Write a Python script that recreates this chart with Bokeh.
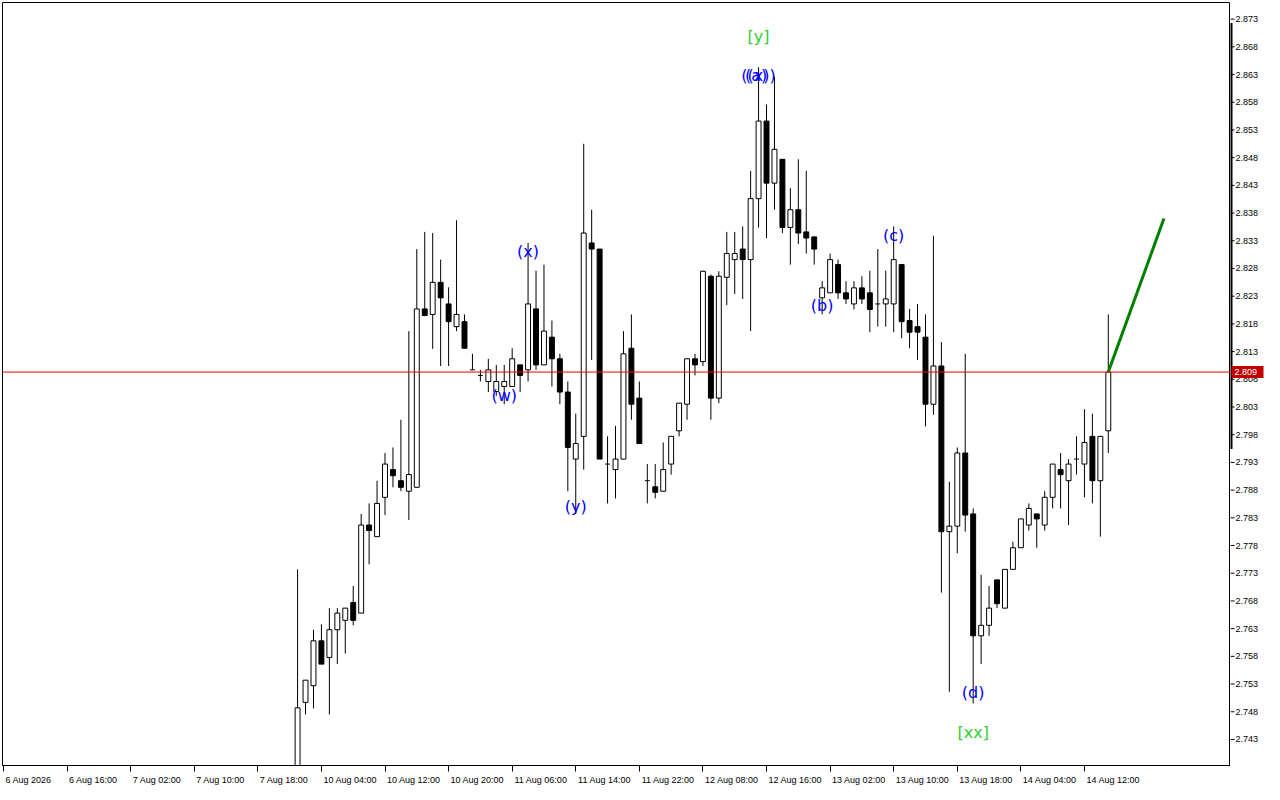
from bokeh.plotting import figure
from bokeh.models import ColumnDataSource, Range1d, LinearAxis, FixedTicker, Span
from bokeh.layouts import row
from bokeh.core.properties import value
from bokeh.embed import file_html
from bokeh.resources import INLINE

# hourly bars, x = bar number on the chart (gaps in trading hours are skipped)
bar = list(range(37, 140))

open_ = [2.7346, 2.7497, 2.7527, 2.7608, 2.7578, 2.7628, 2.7645, 2.7677, 2.7658, 2.7817,
         2.7796, 2.7867, 2.7917, 2.7897, 2.7878, 2.7885, 2.8207, 2.8197, 2.8255, 2.8216,
         2.8175, 2.8184, 2.8097, 2.8087, 2.8076, 2.8058, 2.8067, 2.8067, 2.8106, 2.8097,
         2.8207, 2.8106, 2.8156, 2.8117, 2.8057, 2.7936, 2.7977, 2.8326, 2.8315, 2.7927,
         2.7917, 2.7936, 2.8136, 2.8046, 2.7897, 2.7886, 2.7878, 2.7927, 2.7987, 2.8035,
         2.8117, 2.8112, 2.8266, 2.8046, 2.8264, 2.8296, 2.8315, 2.8296, 2.8406, 2.8546,
         2.8434, 2.8477, 2.8354, 2.8386, 2.8346, 2.8337, 2.8227, 2.8236, 2.8287, 2.8236,
         2.8216, 2.8245, 2.8236, 2.8216, 2.8216, 2.8216, 2.8287, 2.8186, 2.8175, 2.8156,
         2.8035, 2.8104, 2.7805, 2.7815, 2.7947, 2.7837, 2.7617, 2.7636, 2.7718, 2.7667,
         2.7737, 2.7776, 2.7817, 2.7837, 2.7817, 2.7867, 2.7917, 2.7897, 2.7936, 2.7927,
         2.7977, 2.7897, 2.7987]
high = [2.7737, 2.7537, 2.7628, 2.7638, 2.7667, 2.7667, 2.7667, 2.7707, 2.7837, 2.7856,
        2.7897, 2.7947, 2.7957, 2.8007, 2.8167, 2.8315, 2.8346, 2.8344, 2.8296, 2.8246,
        2.8367, 2.8197, 2.8126, 2.8097, 2.8117, 2.8106, 2.8106, 2.8136, 2.8106, 2.8326,
        2.8276, 2.8287, 2.8186, 2.8126, 2.8076, 2.8018, 2.8505, 2.8386, 2.8315, 2.7977,
        2.7996, 2.8167, 2.8197, 2.8076, 2.7927, 2.7927, 2.7966, 2.7977, 2.8037, 2.8117,
        2.8126, 2.8276, 2.8269, 2.8275, 2.8346, 2.8346, 2.8356, 2.8456, 2.8643, 2.8576,
        2.8626, 2.8477, 2.8425, 2.8477, 2.8456, 2.8337, 2.8257, 2.8307, 2.8296, 2.8257,
        2.8257, 2.8266, 2.8276, 2.8315, 2.8276, 2.8356, 2.8287, 2.8207, 2.8216, 2.8197,
        2.8339, 2.8147, 2.7895, 2.7957, 2.8126, 2.7847, 2.7727, 2.7707, 2.7718, 2.7737,
        2.7787, 2.7828, 2.7856, 2.7837, 2.7878, 2.7927, 2.7947, 2.7936, 2.7977, 2.8026,
        2.8018, 2.7977, 2.8197]
low = [2.7328, 2.7475, 2.7486, 2.7566, 2.7475, 2.7566, 2.7585, 2.7636, 2.7658, 2.7746,
       2.7796, 2.7835, 2.7885, 2.7878, 2.7826, 2.7885, 2.8195, 2.8135, 2.8104, 2.8104,
       2.8167, 2.8136, 2.8097, 2.8076, 2.8057, 2.8050, 2.8035, 2.8067, 2.8057, 2.8076,
       2.8097, 2.8106, 2.8067, 2.8035, 2.7878, 2.7837, 2.7917, 2.8115, 2.7936, 2.7856,
       2.7865, 2.7936, 2.8007, 2.7964, 2.7856, 2.7865, 2.7878, 2.7908, 2.7977, 2.8007,
       2.8087, 2.8104, 2.8007, 2.8037, 2.8214, 2.8234, 2.8225, 2.8167, 2.8354, 2.8335,
       2.8386, 2.8344, 2.8287, 2.8324, 2.8307, 2.8287, 2.8197, 2.8236, 2.8225, 2.8216,
       2.8206, 2.8216, 2.8165, 2.8175, 2.8175, 2.8165, 2.8154, 2.8136, 2.8115, 2.7995,
       2.8016, 2.7695, 2.7516, 2.7766, 2.7805, 2.7495, 2.7566, 2.7617, 2.7667, 2.7667,
       2.7737, 2.7776, 2.7807, 2.7776, 2.7807, 2.7847, 2.7847, 2.7817, 2.7908, 2.7867,
       2.7856, 2.7796, 2.7947]
close = [2.7487, 2.7537, 2.7608, 2.7566, 2.7628, 2.7658, 2.7667, 2.7645, 2.7817, 2.7807,
         2.7856, 2.7927, 2.7906, 2.7885, 2.7908, 2.8207, 2.8195, 2.8255, 2.8227, 2.8184,
         2.8197, 2.8136, 2.8097, 2.8087, 2.8097, 2.8076, 2.8076, 2.8117, 2.8087, 2.8216,
         2.8106, 2.8167, 2.8117, 2.8057, 2.7957, 2.7964, 2.8344, 2.8315, 2.7936, 2.7927,
         2.7936, 2.8126, 2.8035, 2.7964, 2.7897, 2.7876, 2.7917, 2.7977, 2.8037, 2.8117,
         2.8106, 2.8275, 2.8046, 2.8266, 2.8307, 2.8307, 2.8296, 2.8406, 2.8546, 2.8434,
         2.8495, 2.8354, 2.8386, 2.8344, 2.8335, 2.8315, 2.8245, 2.8296, 2.8236, 2.8225,
         2.8245, 2.8225, 2.8206, 2.8216, 2.8225, 2.8296, 2.8184, 2.8165, 2.8165, 2.8035,
         2.8104, 2.7805, 2.7815, 2.7947, 2.7835, 2.7617, 2.7636, 2.7667, 2.7675, 2.7737,
         2.7776, 2.7828, 2.7847, 2.7828, 2.7867, 2.7927, 2.7908, 2.7927, 2.7936, 2.7966,
         2.7897, 2.7977, 2.8093]

time_ticks = [0, 8, 16, 24, 32, 40, 48, 56, 64, 72, 80, 88, 96, 104, 112, 120, 128, 136]
time_labels = ["6 Aug 2026", "6 Aug 16:00", "7 Aug 02:00", "7 Aug 10:00", "7 Aug 18:00",
               "10 Aug 04:00", "10 Aug 12:00", "10 Aug 20:00", "11 Aug 06:00", "11 Aug 14:00",
               "11 Aug 22:00", "12 Aug 08:00", "12 Aug 16:00", "13 Aug 02:00", "13 Aug 10:00",
               "13 Aug 18:00", "14 Aug 04:00", "14 Aug 12:00"]
price_ticks = [2.743, 2.748, 2.753, 2.758, 2.763, 2.768, 2.773, 2.778, 2.783, 2.788,
               2.793, 2.798, 2.803, 2.808, 2.813, 2.818, 2.823, 2.828, 2.833, 2.838,
               2.843, 2.848, 2.853, 2.858, 2.863, 2.868, 2.873]

current_price = 2.8093
current_label = "2.809"
scale_bar = [2.7954, 2.8723]   # black bar on the price scale

# wave labels
wave_x = [63, 66, 72, 95, 94.7, 103, 112, 122]
wave_y = [2.8051, 2.8310, 2.7851, 2.8628, 2.8628, 2.8213, 2.8339, 2.7514]
wave_text = ["(w)", "(x)", "(y)", "((x))", "(a)", "(b)", "(c)", "(d)"]
major_x = [95, 122]
major_y = [2.8698, 2.7443]
major_text = ["[y]", "[xx]"]

# forecast line
proj_x = [139, 146]
proj_y = [2.8093, 2.8370]

FRAME_W, FRAME_H, SCALE_W = 1228, 763, 34
X0, X1 = -0.125, 154.375
PX_PER_BAR = FRAME_W / (X1 - X0)

up = dict(x=[], top=[], bottom=[])
down = dict(x=[], top=[], bottom=[])
doji = dict(x=[], y=[])
for b, o, c in zip(bar, open_, close):
    if c > o:
        up["x"].append(b); up["top"].append(c); up["bottom"].append(o)
    elif c < o:
        down["x"].append(b); down["top"].append(o); down["bottom"].append(c)
    else:
        doji["x"].append(b); doji["y"].append(c)

yr = Range1d(2.7383, 2.8760)

p = figure(frame_width=FRAME_W, frame_height=FRAME_H, output_backend="svg",
           toolbar_location=None, x_range=Range1d(X0, X1), y_range=yr,
           x_axis_location=None, y_axis_location=None,
           min_border_left=2, min_border_top=2, min_border_right=0, min_border_bottom=19,
           background_fill_color="white", border_fill_color="white")
p.outline_line_color = "black"
p.outline_line_width = 1
p.xgrid.visible = False
p.ygrid.visible = False

# time axis: tick marks as minor ticks, labels shifted so they start at their tick
char_w = {c: 0.556 for c in "0123456789"}
char_w.update({" ": 0.278, ":": 0.278, "A": 0.667, "u": 0.556, "g": 0.556})
label_pos = []
for t, s in zip(time_ticks, time_labels):
    w = sum(char_w.get(ch, 0.55) for ch in s) * 9
    label_pos.append(round(t + (w / 2 + 2) / PX_PER_BAR, 3))
xaxis = LinearAxis(ticker=FixedTicker(ticks=label_pos, minor_ticks=time_ticks),
                   major_label_overrides={pos: s for pos, s in zip(label_pos, time_labels)})
xaxis.major_label_text_font = "Liberation Sans"
xaxis.major_label_text_font_size = "9px"
xaxis.major_label_text_color = "black"
xaxis.major_label_standoff = 3
xaxis.major_tick_out = 0
xaxis.major_tick_in = 0
xaxis.minor_tick_out = 6
xaxis.minor_tick_in = 0
xaxis.minor_tick_line_color = "black"
xaxis.axis_line_color = "black"
p.add_layout(xaxis, "below")

src = ColumnDataSource(dict(x=bar, high=high, low=low))
p.segment(x0="x", y0="low", x1="x", y1="high", source=src, color="black", line_width=1)
p.vbar(x="x", top="top", bottom="bottom", width=0.62, source=ColumnDataSource(up),
       fill_color="white", line_color="black", line_width=1)
p.vbar(x="x", top="top", bottom="bottom", width=0.62, source=ColumnDataSource(down),
       fill_color="black", line_color="black", line_width=1)
dsrc = ColumnDataSource(dict(x0=[x - 0.31 for x in doji["x"]], x1=[x + 0.31 for x in doji["x"]],
                             y=doji["y"]))
p.segment(x0="x0", y0="y", x1="x1", y1="y", source=dsrc, color="black", line_width=1)

p.add_layout(Span(location=current_price, dimension="width", line_color="#FF0000",
                  line_width=1))

p.line(proj_x, proj_y, line_color="#008000", line_width=3)

p.text(x=wave_x, y=wave_y, text=wave_text, text_color="#0000FF",
       text_font=value("DejaVu Sans"), text_font_size="16px",
       text_align="center", text_baseline="middle")
p.text(x=major_x, y=major_y, text=major_text, text_color="#32CD32",
       text_font=value("DejaVu Sans"), text_font_size="16px",
       text_align="center", text_baseline="middle")

# price scale on the right, x measured in pixels
ps = figure(frame_width=SCALE_W, frame_height=FRAME_H, output_backend="svg",
            toolbar_location=None, x_range=Range1d(0, SCALE_W), y_range=yr,
            x_axis_location=None, y_axis_location=None,
            min_border_left=0, min_border_top=2, min_border_right=0, min_border_bottom=19,
            background_fill_color="white", border_fill_color="white")
ps.outline_line_color = None
ps.xgrid.visible = False
ps.ygrid.visible = False

tick_src = ColumnDataSource(dict(y=price_ticks, label=["%.3f" % t for t in price_ticks]))
ps.segment(x0=0, y0="y", x1=4, y1="y", source=tick_src, color="black", line_width=1)
ps.text(x=5, y="y", text="label", source=tick_src, text_color="black",
        text_font=value("Liberation Sans"), text_font_size="9px",
        text_align="left", text_baseline="middle")
ps.segment(x0=[0], y0=[scale_bar[0]], x1=[0], y1=[scale_bar[1]], color="black", line_width=4)
ps.rect(x=[17], y=[current_price], width=32, height=12, width_units="screen",
        height_units="screen", fill_color="#C00000", line_color=None)
ps.text(x=[4], y=[current_price], text=[current_label], text_color="white",
        text_font=value("Liberation Sans"), text_font_size="9px",
        text_align="left", text_baseline="middle")

layout = row(p, ps, spacing=0)
open("out.html", "w").write(file_html(layout, INLINE))
